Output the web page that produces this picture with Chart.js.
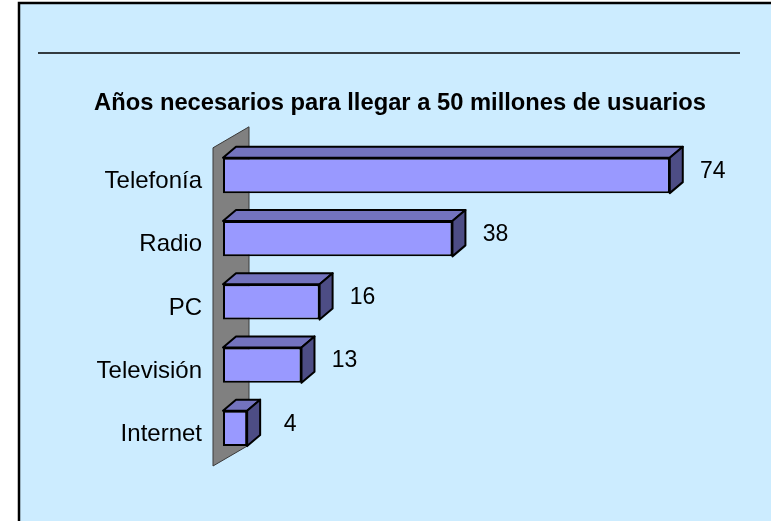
<!DOCTYPE html>
<html>
<head>
<meta charset="utf-8">
<script src="https://cdn.jsdelivr.net/npm/chart.js@4"></script>
<style>
  html, body { margin: 0; padding: 0; background: #ffffff; }
  #wrap { position: relative; width: 771px; height: 521px; }
</style>
</head>
<body>
<div id="wrap"><canvas id="chart" width="771" height="521"></canvas></div>
<script>
// Datos del gráfico
const categorias = ['Telefonía', 'Radio', 'PC', 'Televisión', 'Internet'];
const anios = [74, 38, 16, 13, 4];
const titulo = 'Años necesarios para llegar a 50 millones de usuarios';

const FONT = '"Liberation Sans", Arial, sans-serif';
const DEPTH_X = 13, DEPTH_Y = -11;   // profundidad 3D de las barras
const WALL_X = 36, WALL_Y = -21;     // profundidad de la pared
const PAD_LEFT = 94;                 // centra el título en x≈400

// fondo, marco y línea superior
const fondo = {
    id: 'fondo',
    beforeDraw: function(chart) {
        const ctx = chart.ctx;
        ctx.save();
        ctx.fillStyle = '#ffffff';
        ctx.fillRect(0, 0, chart.width, chart.height);
        ctx.fillStyle = '#CCECFF';
        ctx.fillRect(19, 3, chart.width, chart.height);
        ctx.strokeStyle = '#000000';
        ctx.lineWidth = 2.5;
        ctx.strokeRect(19, 3, chart.width + 10, chart.height + 10);
        ctx.lineWidth = 1.5;
        ctx.beginPath();
        ctx.moveTo(38, 53);
        ctx.lineTo(740, 53);
        ctx.stroke();
        ctx.restore();
    }
};

// pared gris a la izquierda
const pared = {
    id: 'pared',
    beforeDatasetsDraw: function(chart) {
        const a = chart.chartArea;
        const ctx = chart.ctx;
        const x = a.left - 10, top = a.top + 4, bottom = a.bottom + 6;
        ctx.save();
        ctx.fillStyle = '#808080';
        ctx.strokeStyle = '#3a3a3a';
        ctx.lineWidth = 1;
        ctx.beginPath();
        ctx.moveTo(x, top);
        ctx.lineTo(x + WALL_X, top + WALL_Y);
        ctx.lineTo(x + WALL_X, bottom + WALL_Y);
        ctx.lineTo(x, bottom);
        ctx.closePath();
        ctx.fill();
        ctx.stroke();
        ctx.restore();
    }
};

// caras superior y lateral + etiquetas de valor
const caras3d = {
    id: 'caras3d',
    afterDatasetsDraw: function(chart) {
        const ctx = chart.ctx;
        const meta = chart.getDatasetMeta(0);
        ctx.save();
        ctx.lineWidth = 2;
        ctx.lineJoin = 'round';
        ctx.strokeStyle = '#000000';
        meta.data.forEach(function(bar, i) {
            const x0 = bar.base, x1 = bar.x;
            const y0 = bar.y - bar.height / 2, y1 = bar.y + bar.height / 2;
            // cara superior
            ctx.fillStyle = '#7373BE';
            ctx.beginPath();
            ctx.moveTo(x0, y0);
            ctx.lineTo(x0 + DEPTH_X, y0 + DEPTH_Y);
            ctx.lineTo(x1 + DEPTH_X, y0 + DEPTH_Y);
            ctx.lineTo(x1, y0);
            ctx.closePath();
            ctx.fill();
            ctx.stroke();
            // cara lateral
            ctx.fillStyle = '#4D4D85';
            ctx.beginPath();
            ctx.moveTo(x1, y0);
            ctx.lineTo(x1 + DEPTH_X, y0 + DEPTH_Y);
            ctx.lineTo(x1 + DEPTH_X, y1 + DEPTH_Y);
            ctx.lineTo(x1, y1);
            ctx.closePath();
            ctx.fill();
            ctx.stroke();
            // valor
            ctx.fillStyle = '#000000';
            ctx.font = '23px ' + FONT;
            ctx.textAlign = 'center';
            ctx.textBaseline = 'middle';
            ctx.fillText(String(anios[i]), x1 + 43, bar.y - 4);
        });
        ctx.restore();
    }
};

new Chart(document.getElementById('chart'), {
    type: 'bar',
    data: {
        labels: categorias,
        datasets: [{
            data: anios,
            backgroundColor: '#9999FF',
            borderColor: '#000000',
            borderWidth: 2,
            borderSkipped: false,
            categoryPercentage: 1,
            barPercentage: 0.56
        }]
    },
    options: {
        indexAxis: 'y',
        responsive: false,
        animation: false,
        layout: {
            padding: { left: PAD_LEFT, right: 65, top: 0, bottom: 61 }
        },
        plugins: {
            legend: { display: false },
            tooltip: { enabled: false },
            title: {
                display: true,
                text: titulo,
                color: '#000000',
                font: { family: FONT, size: 24, weight: 'bold', lineHeight: 1.2 },
                padding: { top: 89, bottom: 26 }
            }
        },
        scales: {
            x: {
                display: false,
                min: 0,
                max: 80
            },
            y: {
                grid: { display: false, drawTicks: false },
                border: { display: false },
                ticks: {
                    color: '#000000',
                    font: { family: FONT, size: 24 },
                    padding: 21,
                    labelOffset: 6
                },
                afterFit: function(scale) {
                    scale.width = 223 - PAD_LEFT;
                }
            }
        }
    },
    plugins: [fondo, pared, caras3d]
});
</script>
</body>
</html>
